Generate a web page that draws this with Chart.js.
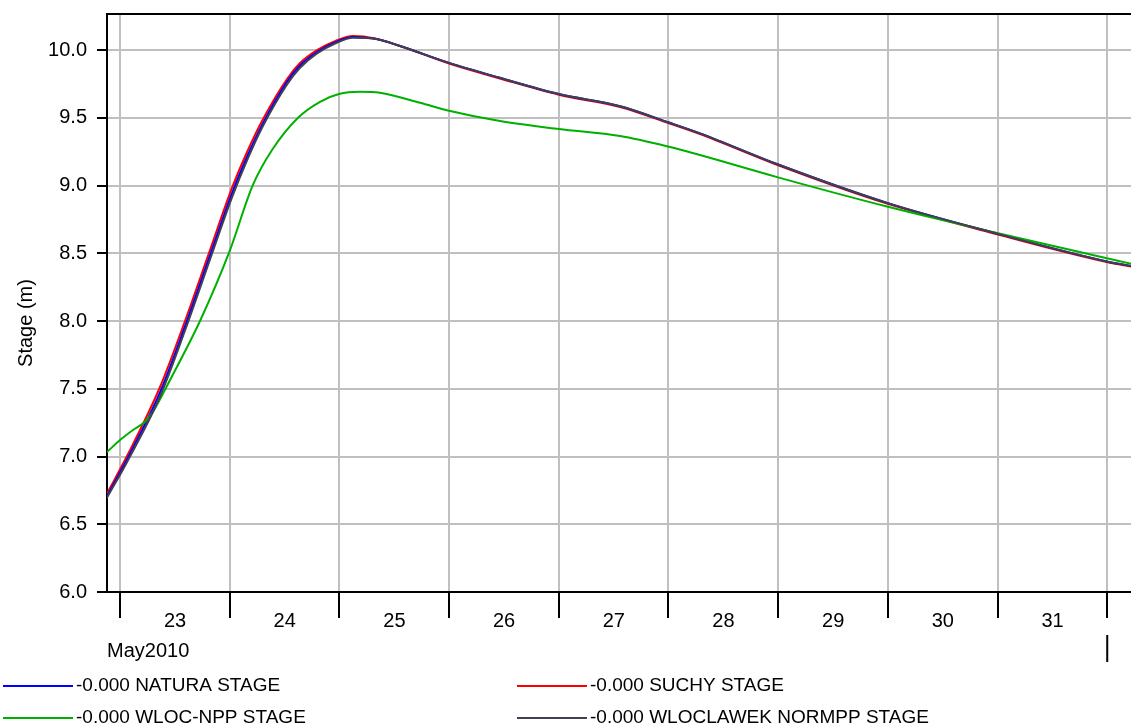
<!DOCTYPE html>
<html>
<head>
<meta charset="utf-8">
<script src="https://cdn.jsdelivr.net/npm/chart.js@4/dist/chart.umd.min.js"></script>
<style>
  html, body { margin: 0; padding: 0; background: #fff; }
  #wrap { width: 1131px; height: 727px; position: relative; }
</style>
</head>
<body>
<div id="wrap"><canvas id="stageChart"></canvas></div>
<script>
// heures depuis le 23 mai 2010 00:00
let hoursMain = [-2.9, 1.75, 8.75, 14.22, 19.69, 24.5, 28.0, 31.07, 36.54, 39.38, 43.1, 47.04, 50.98, 55.8, 61.26, 72.0, 83.1, 96.0, 109.4, 120.1, 126.9, 144.0, 168.0, 191.9, 215.9, 221.5];
let natura    = [6.703, 6.993, 7.473, 7.96, 8.484, 8.942, 9.227, 9.446, 9.766, 9.886, 9.985, 10.056, 10.097, 10.083, 10.03, 9.905, 9.795, 9.675, 9.585, 9.465, 9.385, 9.155, 8.87, 8.645, 8.44, 8.405];
let suchy     = [6.723, 7.018, 7.513, 8.0, 8.524, 8.982, 9.262, 9.476, 9.786, 9.904, 10.0, 10.066, 10.103, 10.085, 10.03, 9.90, 9.79, 9.67, 9.58, 9.46, 9.38, 9.15, 8.865, 8.64, 8.435, 8.40];
let wloclawek = [6.693, 6.973, 7.443, 7.93, 8.454, 8.912, 9.202, 9.426, 9.746, 9.869, 9.975, 10.048, 10.091, 10.083, 10.03, 9.905, 9.795, 9.675, 9.585, 9.465, 9.385, 9.155, 8.87, 8.645, 8.44, 8.405];

let hoursNpp = [-2.9, 0, 2.84, 5.47, 7.22, 10.94, 17.5, 23.85, 29.1, 33.26, 38.94, 43.76, 47.9, 52.5, 56.88, 65.63, 71.98, 83.14, 96.04, 109.39, 120.1, 126.89, 143.96, 168.02, 191.87, 221.5];
let wlocNpp  = [7.031, 7.122, 7.196, 7.257, 7.331, 7.565, 8.0, 8.504, 9.006, 9.262, 9.50, 9.618, 9.675, 9.692, 9.684, 9.611, 9.552, 9.476, 9.417, 9.365, 9.286, 9.225, 9.06, 8.843, 8.65, 8.42];

let dayLabels = ['23', '24', '25', '26', '27', '28', '29', '30', '31', ''];
let yTicks = [6.0, 6.5, 7.0, 7.5, 8.0, 8.5, 9.0, 9.5, 10.0];
let legendNames = ['-0.000 NATURA STAGE', '-0.000 SUCHY STAGE', '-0.000 WLOC-NPP STAGE', '-0.000 WLOCLAWEK NORMPP STAGE'];
let colors = ['#0000ff', '#ff0000', '#00b000', '#404050'];

let fontFamily = '"Liberation Sans", Arial, sans-serif';

function toPoints(xs, ys) {
    return xs.map(function(x, i) { return { x: x, y: ys[i] }; });
}

function makeDataset(label, xs, ys, color, order) {
    return {
        label: label,
        data: toPoints(xs, ys),
        borderColor: color,
        backgroundColor: color,
        borderWidth: 2,
        pointRadius: 0,
        cubicInterpolationMode: 'monotone',
        fill: false,
        order: order
    };
}

function noPadding(scale) {
    scale.paddingTop = 0;
    scale.paddingBottom = 0;
    scale.paddingLeft = 0;
    scale.paddingRight = 0;
}

// dessin des éléments hors axes (légende, cadre, mois)
let extrasPlugin = {
    id: 'extras',
    beforeDraw: function(chart) {
        let c = chart.ctx;
        c.save();
        c.fillStyle = '#fff';
        c.fillRect(0, 0, chart.width, chart.height);
        c.restore();
    },
    afterDraw: function(chart) {
        let c = chart.ctx;
        let area = chart.chartArea;
        c.save();
        c.strokeStyle = '#000';
        c.lineWidth = 2;
        c.beginPath();
        c.moveTo(area.left - 1, area.top);
        c.lineTo(area.right, area.top);
        c.stroke();

        // tick final sous le mois
        let xEnd = chart.scales.x.getPixelForValue(216);
        c.beginPath();
        c.moveTo(xEnd, 635);
        c.lineTo(xEnd, 662);
        c.stroke();

        c.fillStyle = '#000';
        c.font = '20px ' + fontFamily;
        c.textAlign = 'left';
        c.textBaseline = 'alphabetic';
        c.fillText('May2010', area.left, 657);

        // titre vertical
        c.save();
        c.translate(26, 323);
        c.rotate(-Math.PI / 2);
        c.textAlign = 'center';
        c.textBaseline = 'middle';
        c.fillText('Stage (m)', 0, 0);
        c.restore();

        // légende sur deux colonnes
        let cols = [3, 517];
        let rows = [686, 718];
        c.font = '19px ' + fontFamily;
        c.textBaseline = 'middle';
        legendNames.forEach(function(name, i) {
            let lx = cols[i % 2];
            let ly = rows[Math.floor(i / 2)];
            c.strokeStyle = colors[i];
            c.lineWidth = 2;
            c.beginPath();
            c.moveTo(lx, ly);
            c.lineTo(lx + 70, ly);
            c.stroke();
            c.fillStyle = '#000';
            c.fillText(name, lx + 73, ly);
        });
        c.restore();
    }
};

let ctx = document.getElementById('stageChart').getContext('2d');
let stageChart = new Chart(ctx, {
    type: 'line',
    data: {
        datasets: [
            makeDataset(legendNames[0], hoursMain, natura, colors[0], 2),
            makeDataset(legendNames[1], hoursMain, suchy, colors[1], 3),
            makeDataset(legendNames[2], hoursNpp, wlocNpp, colors[2], 1),
            makeDataset(legendNames[3], hoursMain, wloclawek, colors[3], 0)
        ]
    },
    options: {
        responsive: true,
        maintainAspectRatio: false,
        animation: false,
        layout: { padding: { top: 14, left: 0, right: 0, bottom: 0 } },
        plugins: {
            legend: { display: false },
            tooltip: { enabled: false }
        },
        scales: {
            x: {
                type: 'linear',
                min: -2.85,
                max: 221.2,
                afterFit: function(scale) { scale.height = 135; noPadding(scale); },
                afterBuildTicks: function(scale) {
                    scale.ticks = dayLabels.map(function(l, i) { return { value: i * 24 }; });
                },
                grid: {
                    color: '#c0c0c0',
                    lineWidth: 2,
                    tickColor: '#000',
                    tickLength: 26,
                    tickWidth: 2
                },
                border: { color: '#000', width: 2 },
                ticks: {
                    autoSkip: false,
                    maxRotation: 0,
                    labelOffset: 55,
                    padding: -9,
                    color: '#000',
                    font: { family: fontFamily, size: 20 },
                    callback: function(value) { return dayLabels[Math.round(value / 24)]; }
                }
            },
            y: {
                type: 'linear',
                min: 6.0,
                max: 10.266,
                afterFit: function(scale) { scale.width = 107; noPadding(scale); },
                afterBuildTicks: function(scale) {
                    scale.ticks = yTicks.map(function(v) { return { value: v }; });
                },
                grid: {
                    color: '#c0c0c0',
                    lineWidth: 2,
                    tickColor: '#000',
                    tickLength: 10,
                    tickWidth: 2
                },
                border: { color: '#000', width: 2 },
                ticks: {
                    padding: 10,
                    color: '#000',
                    font: { family: fontFamily, size: 20 },
                    callback: function(value) { return value.toFixed(1); }
                }
            }
        }
    },
    plugins: [extrasPlugin]
});
</script>
</body>
</html>
